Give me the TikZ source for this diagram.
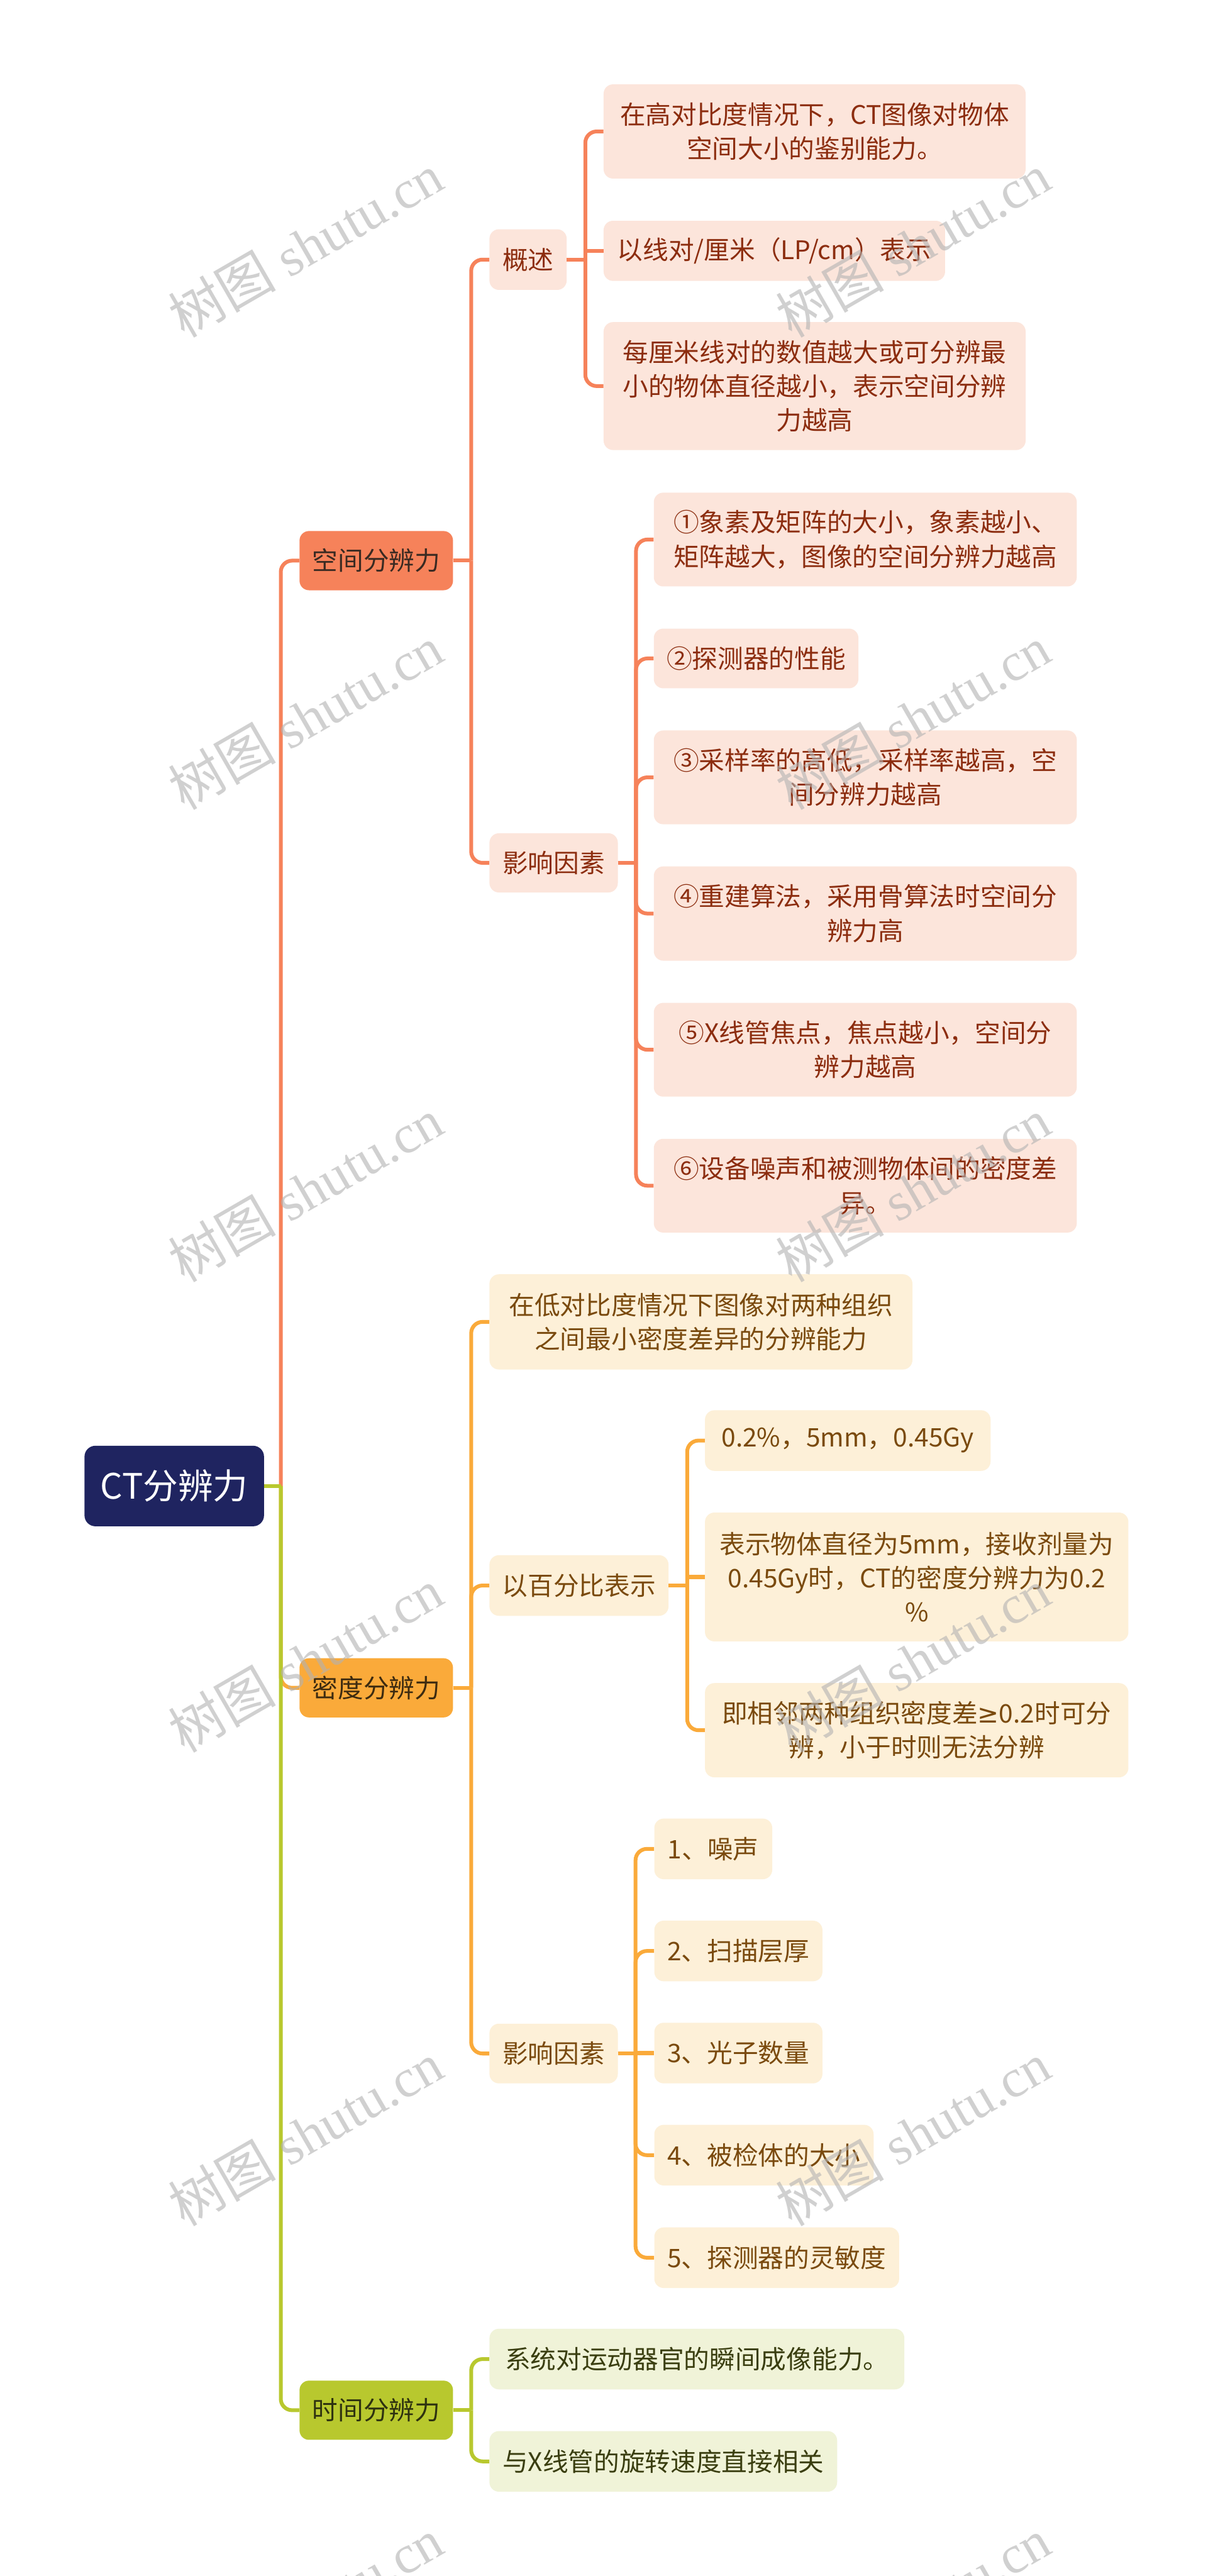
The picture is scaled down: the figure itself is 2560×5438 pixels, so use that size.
\documentclass[tikz,border=0pt]{standalone}
\usepackage{fontspec}
\setmainfont{Noto Sans CJK SC}
\newfontfamily\wmserif{Liberation Serif}
\newfontfamily\wmcjk{Noto Sans CJK SC}
\newfontfamily\symfont{DejaVu Sans}
\definecolor{rootc}{HTML}{1F2460}
\definecolor{spA}{HTML}{F6825A}
\definecolor{spB}{HTML}{FCE5DB}
\definecolor{spT}{HTML}{8C2D0F}
\definecolor{spD}{HTML}{3A2A22}
\definecolor{deA}{HTML}{FAAA3A}
\definecolor{deB}{HTML}{FDF0D8}
\definecolor{deT}{HTML}{7A4A0E}
\definecolor{deD}{HTML}{3D2B10}
\definecolor{tiA}{HTML}{B8C82E}
\definecolor{tiB}{HTML}{F0F3D8}
\definecolor{tiT}{HTML}{3A3E10}
\definecolor{tiD}{HTML}{2E3210}
\tikzset{
  box/.style={rounded corners=10pt, inner sep=0pt, align=center, anchor=west,
    font=\fontsize{27pt}{36pt}\selectfont},
  sz/.style 2 args={minimum width={(#1)*0.5pt}, minimum height={(#2)*0.5pt}},
  rootbox/.style={box, fill=rootc, text=white, rounded corners=11.5pt,
    font=\fontsize{37pt}{44pt}\selectfont},
  spL1/.style={box, fill=spA, text=spD},
  deL1/.style={box, fill=deA, text=deD},
  tiL1/.style={box, fill=tiA, text=tiD},
  spL/.style={box, fill=spB, text=spT},
  deL/.style={box, fill=deB, text=deT},
  tiL/.style={box, fill=tiB, text=tiT},
  link/.style={line width=4pt},
  wm/.style={rotate=30, text=black!30, opacity=0.6, inner sep=0pt,
    font=\fontsize{57pt}{57pt}\wmserif},
}
% #1 parent, #2 child, #3 stub length, #4 colour
\newcommand\linkto[4]{%
  \draw[link,#4] (#1.east) -- ++(#3,0) coordinate (#1-j);
  \draw[link,#4,rounded corners=12pt] (#1-j) |- (#2.west);
}
\newcommand\linkflat[4]{%
  \draw[link,#4] (#1.east) -- ++(#3,0) coordinate (#1-j);
  \draw[link,#4] (#1-j) |- (#2.west);
}
\begin{document}
\begin{tikzpicture}[x=0.5pt,y=-0.5pt]
\fill[white] (0,0) rectangle (2560,5438);
\useasboundingbox (0,0) rectangle (2560,5438);

% root and level 1
\node[rootbox, sz={379}{170}] (root) at (178,3137) {CT分辨力};
\node[spL1, sz={324}{125}] (sp) at (632,1183.5) {空间分辨力};
\node[deL1, sz={324}{125}] (de) at (632,3563) {密度分辨力};
\node[tiL1, sz={324}{125}] (ti) at (632,5088) {时间分辨力};

% spatial
\node[spL, sz={163}{128}] (gs) at (1033,548) {概述};
\node[spL, sz={271}{125}] (yx1) at (1033,1821.5) {影响因素};
\node[spL, sz={891}{199}] (c1) at (1274,277.5) {在高对比度情况下，CT图像对物体\\空间大小的鉴别能力。};
\node[spL, sz={721}{127}] (c2) at (1274,529.5) {以线对/厘米（LP/cm）表示};
\node[spL, sz={891}{270}] (c3) at (1274,815) {每厘米线对的数值越大或可分辨最\\小的物体直径越小，表示空间分辨\\力越高};
\node[spL, sz={893}{198}] (r1) at (1380,1139) {①象素及矩阵的大小，象素越小、\\矩阵越大，图像的空间分辨力越高};
\node[spL, sz={432}{126}] (r2) at (1380,1390) {②探测器的性能};
\node[spL, sz={893}{198}] (r3) at (1380,1641) {③采样率的高低，采样率越高，空\\间分辨力越高};
\node[spL, sz={893}{199}] (r4) at (1380,1928.5) {④重建算法，采用骨算法时空间分\\辨力高};
\node[spL, sz={893}{198}] (r5) at (1380,2216) {⑤X线管焦点，焦点越小，空间分\\辨力越高};
\node[spL, sz={893}{198}] (r6) at (1380,2503) {⑥设备噪声和被测物体间的密度差\\异。};

% density
\node[deL, sz={893}{201}] (d1) at (1033,2790.5) {在低对比度情况下图像对两种组织\\之间最小密度差异的分辨能力};
\node[deL, sz={378}{128}] (d2) at (1033,3347) {以百分比表示};
\node[deL, sz={271}{126}] (d3) at (1033,4335) {影响因素};
\node[deL, sz={603}{128}] (p1) at (1488,3041) {0.2\%，5mm，0.45Gy};
\node[deL, sz={894}{272}] (p2) at (1488,3329) {表示物体直径为5mm，接收剂量为\\0.45Gy时，CT的密度分辨力为0.2\\\%};
\node[deL, sz={894}{199}] (p3) at (1488,3652.5) {即相邻两种组织密度差{\symfont ≥}0.2时可分\\辨，小于时则无法分辨};
\node[deL, sz={249}{128}] (q1) at (1381,3903) {1、噪声};
\node[deL, sz={355}{128}] (q2) at (1381,4118.5) {2、扫描层厚};
\node[deL, sz={355}{128}] (q3) at (1381,4334) {3、光子数量};
\node[deL, sz={463}{128}] (q4) at (1381,4549.5) {4、被检体的大小};
\node[deL, sz={517}{128}] (q5) at (1381,4766) {5、探测器的灵敏度};

% time
\node[tiL, sz={876}{128}] (t1) at (1033,4980) {系统对运动器官的瞬间成像能力。};
\node[tiL, sz={734}{128}] (t2) at (1033,5196) {与X线管的旋转速度直接相关};

% connectors
\linkto{root}{sp}{35}{spA}
\linkto{sp}{gs}{38}{spA}
\linkto{sp}{yx1}{38}{spA}
\linkto{gs}{c1}{39}{spA}
\linkflat{gs}{c2}{39}{spA}
\linkto{gs}{c3}{39}{spA}
\linkto{yx1}{r1}{38}{spA}
\linkto{yx1}{r2}{38}{spA}
\linkto{yx1}{r3}{38}{spA}
\linkto{yx1}{r4}{38}{spA}
\linkto{yx1}{r5}{38}{spA}
\linkto{yx1}{r6}{38}{spA}

\linkto{root}{de}{35}{deA}
\linkto{de}{d1}{38}{deA}
\linkto{de}{d2}{38}{deA}
\linkto{de}{d3}{38}{deA}
\linkto{d2}{p1}{39}{deA}
\linkflat{d2}{p2}{39}{deA}
\linkto{d2}{p3}{39}{deA}
\linkto{d3}{q1}{37}{deA}
\linkto{d3}{q2}{37}{deA}
\linkflat{d3}{q3}{37}{deA}
\linkto{d3}{q4}{37}{deA}
\linkto{d3}{q5}{37}{deA}

\linkto{root}{ti}{35}{tiA}
\linkto{ti}{t1}{38}{tiA}
\linkto{ti}{t2}{38}{tiA}

% watermarks
\foreach \k/\wy in {1/518,2/1515,3/2512,4/3505,5/4505,6/5510} {
  \node[wm] (wmL\k) at (645,\wy) {{\wmcjk 树图} shutu.cn};
  \node[wm] (wmR\k) at (1928,\wy) {{\wmcjk 树图} shutu.cn};
}
\end{tikzpicture}
\end{document}
